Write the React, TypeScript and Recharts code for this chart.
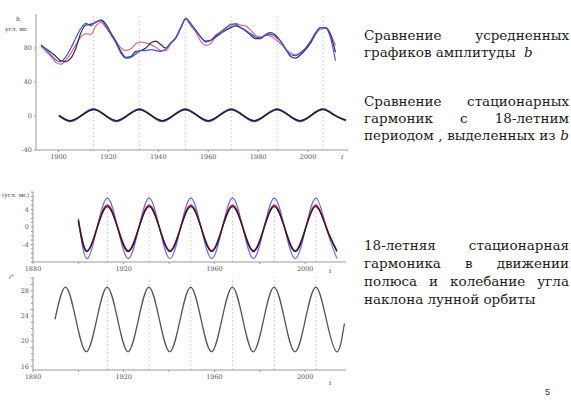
import React from 'react';
import { LineChart, Line, XAxis, YAxis, ReferenceLine } from 'recharts';

// averaged amplitude b, three solutions
const avgYears = [
  1893, 1895, 1897, 1899, 1901, 1903, 1905, 1907, 1909, 1911,
  1913, 1915, 1917, 1919, 1921, 1923, 1925, 1927, 1929, 1931,
  1933, 1935, 1937, 1939, 1941, 1943, 1945, 1947, 1949, 1951,
  1953, 1955, 1957, 1959, 1961, 1963, 1965, 1967, 1969, 1971,
  1973, 1975, 1977, 1979, 1981, 1983, 1985, 1987, 1989, 1991,
  1993, 1995, 1997, 1999, 2001, 2003, 2005, 2007, 2009, 2011,
];
const avgBlue = [
  84, 78, 72, 66, 64, 70, 80, 92, 103, 109,
  106, 111, 112, 106, 96, 86, 74, 68, 69, 73,
  77, 77, 78, 77, 76, 79, 86, 92, 104, 115,
  109, 100, 93, 87, 89, 95, 99, 103, 108, 108,
  104, 101, 97, 93, 92, 95, 96, 93, 88, 79,
  72, 71, 74, 80, 88, 98, 104, 104, 92, 65,
];
const avgRed = [
  82, 76, 70, 63, 61, 66, 74, 84, 93, 97,
  96, 106, 110, 104, 96, 88, 80, 77, 79, 85,
  87, 86, 84, 81, 77, 77, 85, 92, 103, 114,
  106, 99, 88, 83, 85, 94, 99, 104, 106, 109,
  107, 106, 101, 95, 93, 95, 94, 90, 85, 79,
  74, 72, 75, 79, 86, 96, 102, 103, 96, 83,
];
const avgBlack = [
  83, 79, 75, 70, 65, 64, 68, 80, 98, 107,
  108, 110, 113, 108, 98, 88, 76, 69, 70, 76,
  77, 80, 86, 88, 84, 80, 86, 92, 104, 115,
  108, 101, 93, 88, 89, 93, 97, 101, 104, 106,
  104, 100, 95, 91, 91, 96, 98, 95, 88, 79,
  70, 68, 72, 78, 86, 97, 104, 104, 96, 75,
];

// 18-year harmonics extracted from b (top panel)
const harmYears = [
  1900.2, 1904.8, 1909.4, 1914, 1918.6, 1923.2, 1927.8, 1932.4, 1937, 1941.6,
  1946.2, 1950.8, 1955.4, 1960, 1964.6, 1969.2, 1973.8, 1978.4, 1983, 1987.6,
  1992.2, 1996.8, 2001.4, 2006, 2010.6, 2015.2,
];
const harmRed = [1, -6, 1, 8, 1, -6, 1, 8, 1, -6, 1, 8, 1, -6, 1, 8, 1, -6, 1, 8, 1, -6, 1, 8, 1, -5];
const harmBlue = [0.5, -6.5, 1, 8.5, 1, -6.5, 1, 8.5, 1, -6.5, 1, 8.5, 1, -6.5, 1, 8.5, 1, -6.5, 1, 8.5, 1, -6.5, 1, 8.5, 1, -5.5];
const harmBlack = [0.5, -5.5, 1, 7.5, 1, -5.5, 1, 7.5, 1, -5.5, 1, 7.5, 1, -5.5, 1, 7.5, 1, -5.5, 1, 7.5, 1, -5.5, 1, 7.5, 1, -5];

// 18-year harmonic in pole motion (middle panel)
const midYears = [
  1900, 1903.6, 1908.2, 1912.8, 1917.4, 1922, 1926.6, 1931.2, 1935.8, 1940.4,
  1945, 1949.6, 1954.2, 1958.8, 1963.4, 1968, 1972.6, 1977.2, 1981.8, 1986.4,
  1991, 1995.6, 2000.2, 2004.8, 2009.4, 2014,
];
const midRed = [1.5, -5.4, -0.2, 5, -0.2, -5.4, -0.2, 5, -0.2, -5.4, -0.2, 5, -0.2, -5.4, -0.2, 5, -0.2, -5.4, -0.2, 5, -0.2, -5.4, -0.2, 5, -0.2, -5.4];
const midBlue = [2, -7.2, -0.3, 6.6, -0.3, -7.2, -0.3, 6.6, -0.3, -7.2, -0.3, 6.6, -0.3, -7.2, -0.3, 6.6, -0.3, -7.2, -0.3, 6.6, -0.3, -7.2, -0.3, 6.6, -0.3, -7.2];
const midBlack = [1.5, -5.6, -0.3, 4.7, -0.3, -5.6, -0.3, 4.7, -0.3, -5.6, -0.3, 4.7, -0.3, -5.6, -0.3, 4.7, -0.3, -5.6, -0.3, 4.7, -0.3, -5.6, -0.3, 4.7, -0.3, -5.6];

// lunar orbit inclination to the equator (bottom panel)
const lunarYears = [
  1889.7, 1894.3, 1898.9, 1903.5, 1908.1, 1912.7, 1917.3, 1921.9, 1926.5, 1931.1,
  1935.7, 1940.3, 1944.9, 1949.5, 1954.1, 1958.7, 1963.3, 1967.9, 1972.5, 1977.1,
  1981.7, 1986.3, 1990.9, 1995.5, 2000.1, 2004.7, 2009.3, 2013.9, 2017.3,
];
const lunarIncl = [
  23.45, 28.6, 23.45, 18.3, 23.45, 28.6, 23.45, 18.3, 23.45, 28.6,
  23.45, 18.3, 23.45, 28.6, 23.45, 18.3, 23.45, 28.6, 23.45, 18.3,
  23.45, 28.6, 23.45, 18.3, 23.45, 28.6, 23.45, 18.3, 22.8,
];

const topPeaks = [1914, 1932.4, 1950.8, 1969.2, 1987.6, 2006];
const lowPeaks = [1912.8, 1931.2, 1949.6, 1968, 1986.4, 2004.8];

const topXTicks = [1900, 1920, 1940, 1960, 1980, 2000];
const topYTicks = [-40, 0, 40, 80];
const lowXTicks = [1880, 1900, 1920, 1940, 1960, 1980, 2000];
const midYTicks = [-8, -7, -6, -5, -4, -3, -2, -1, 0, 1, 2, 3, 4, 5, 6, 7, 8];
const lunarYTicks = [16, 17, 18, 19, 20, 21, 22, 23, 24, 25, 26, 27, 28, 29, 30];

const avgData = avgYears.map((year, i) => ({ year, blue: avgBlue[i], red: avgRed[i], black: avgBlack[i] }));
const harmData = harmYears.map((year, i) => ({ year, red: harmRed[i], blue: harmBlue[i], black: harmBlack[i] }));
const midData = midYears.map((year, i) => ({ year, red: midRed[i], blue: midBlue[i], black: midBlack[i] }));
const lunarData = lunarYears.map((year, i) => ({ year, incl: lunarIncl[i] }));

const serif = "'DejaVu Serif', serif";
const tickFont = { fontSize: 6.5, fill: '#555', fontFamily: serif };
const axisColor = '#999';

const TextLine = ({ top, justify, children }: { top: number; justify?: boolean; children: React.ReactNode }) => (
  <div
    style={{
      position: 'absolute',
      left: 364,
      width: 205,
      top: top - 9,
      fontFamily: serif,
      fontSize: 13.5,
      lineHeight: '18px',
      color: '#1c1c1c',
      whiteSpace: justify ? 'normal' : 'nowrap',
      textAlign: justify ? 'justify' : 'left',
      textAlignLast: justify ? 'justify' : 'left',
    }}
  >
    {children}
  </div>
);

const Small = ({ left, top, children, italic }: { left: number; top: number; children: React.ReactNode; italic?: boolean }) => (
  <div style={{ position: 'absolute', left, top, fontFamily: serif, fontSize: 6, color: '#444', fontStyle: italic ? 'italic' : 'normal', whiteSpace: 'nowrap', lineHeight: '8px' }}>
    {children}
  </div>
);

export default function App() {
  return (
    <div style={{ position: 'absolute', left: 0, top: 0, width: 571, height: 403, background: '#fff', overflow: 'hidden' }}>
      {/* top panel: averaged amplitude and harmonics */}
      <div style={{ position: 'absolute', left: 0, top: 0 }}>
        <LineChart width={360} height={166} margin={{ top: 14, right: 12, bottom: 0, left: 0 }}>
          <XAxis
            type="number"
            dataKey="year"
            domain={[1891, 2016]}
            ticks={topXTicks}
            interval={0}
            tick={tickFont}
            tickSize={2}
            height={16}
            stroke={axisColor}
            allowDataOverflow
          />
          <YAxis
            type="number"
            domain={[-40, 120]}
            ticks={topYTicks}
            interval={0}
            tick={tickFont}
            tickSize={2}
            width={36}
            stroke={axisColor}
            allowDataOverflow
          />
          {topPeaks.map((p) => (
            <ReferenceLine key={p} x={p} stroke="#c8c8c8" strokeDasharray="2 2" strokeWidth={0.8} />
          ))}
          <Line data={avgData} dataKey="red" type="monotone" stroke="#ee6677" strokeWidth={1.2} dot={false} isAnimationActive={false} />
          <Line data={avgData} dataKey="black" type="monotone" stroke="#2e2e55" strokeWidth={1.2} dot={false} isAnimationActive={false} />
          <Line data={avgData} dataKey="blue" type="monotone" stroke="#4455dd" strokeWidth={1.2} dot={false} isAnimationActive={false} />
          <Line data={harmData} dataKey="red" type="natural" stroke="#dd4455" strokeWidth={1.5} dot={false} isAnimationActive={false} />
          <Line data={harmData} dataKey="blue" type="natural" stroke="#5555dd" strokeWidth={1.5} dot={false} isAnimationActive={false} />
          <Line data={harmData} dataKey="black" type="natural" stroke="#222" strokeWidth={1.5} dot={false} isAnimationActive={false} />
        </LineChart>
      </div>
      <Small left={16} top={15}><i>b</i>,</Small>
      <Small left={5} top={25}>угл. мс</Small>
      <Small left={341} top={153} italic>t</Small>

      {/* middle panel: harmonic in pole motion */}
      <div style={{ position: 'absolute', left: 0, top: 186 }}>
        <LineChart width={360} height={90} margin={{ top: 6, right: 14, bottom: 0, left: 0 }}>
          <XAxis
            type="number"
            dataKey="year"
            domain={[1880, 2018]}
            ticks={lowXTicks}
            interval={0}
            tickFormatter={(v: number) => (v % 40 === 0 ? String(v) : '')}
            tick={tickFont}
            tickSize={2}
            height={14}
            stroke={axisColor}
            allowDataOverflow
          />
          <YAxis
            type="number"
            domain={[-8, 8]}
            ticks={midYTicks}
            interval={0}
            tickFormatter={(v: number) => (v === -4 || v === 0 || v === 4 ? String(v) : '')}
            tick={tickFont}
            tickSize={2}
            width={33}
            stroke={axisColor}
            allowDataOverflow
          />
          {lowPeaks.map((p) => (
            <ReferenceLine key={p} x={p} stroke="#c8c8c8" strokeDasharray="2 2" strokeWidth={0.8} />
          ))}
          <Line data={midData} dataKey="blue" type="natural" stroke="#6a6af2" strokeWidth={1.1} dot={false} isAnimationActive={false} />
          <Line data={midData} dataKey="red" type="natural" stroke="#d63a4a" strokeWidth={1.6} dot={false} isAnimationActive={false} />
          <Line data={midData} dataKey="black" type="natural" stroke="#2a1a30" strokeWidth={1.4} dot={false} isAnimationActive={false} />
        </LineChart>
      </div>
      <Small left={2} top={191}>(угл. мс)</Small>
      <Small left={329} top={267} italic>t</Small>

      {/* bottom panel: lunar orbit inclination */}
      <div style={{ position: 'absolute', left: 0, top: 270 }}>
        <LineChart width={360} height={116} margin={{ top: 7, right: 14, bottom: 0, left: 0 }}>
          <XAxis
            type="number"
            dataKey="year"
            domain={[1880, 2018]}
            ticks={lowXTicks}
            interval={0}
            tickFormatter={(v: number) => (v % 40 === 0 ? String(v) : '')}
            tick={tickFont}
            tickSize={2}
            height={16}
            stroke={axisColor}
            allowDataOverflow
          />
          <YAxis
            type="number"
            domain={[15.4, 30.2]}
            ticks={lunarYTicks}
            interval={0}
            tickFormatter={(v: number) => (v % 4 === 0 ? String(v) : '')}
            tick={tickFont}
            tickSize={2}
            width={33}
            stroke={axisColor}
            allowDataOverflow
          />
          {lowPeaks.map((p) => (
            <ReferenceLine key={p} x={p} stroke="#c8c8c8" strokeDasharray="2 2" strokeWidth={0.8} />
          ))}
          <Line data={lunarData} dataKey="incl" type="natural" stroke="#555" strokeWidth={1.3} dot={false} isAnimationActive={false} />
        </LineChart>
      </div>
      <Small left={9} top={273} italic>i°</Small>
      <Small left={329} top={379} italic>t</Small>

      {/* captions */}
      <TextLine top={35} justify>Сравнение усредненных</TextLine>
      <TextLine top={52}>графиков амплитуды&nbsp; <i>b</i></TextLine>

      <TextLine top={101} justify>Сравнение стационарных</TextLine>
      <TextLine top={118} justify>гармоник с 18-летним</TextLine>
      <TextLine top={135} justify>периодом , выделенных из <i>b</i></TextLine>

      <TextLine top={245} justify>18-летняя стационарная</TextLine>
      <TextLine top={263} justify>гармоника в движении</TextLine>
      <TextLine top={281} justify>полюса и колебание угла</TextLine>
      <TextLine top={299}>наклона лунной орбиты</TextLine>

      <div style={{ position: 'absolute', left: 545, top: 387, fontFamily: "'Liberation Sans', Arial, sans-serif", fontSize: 9, color: '#333' }}>5</div>
    </div>
  );
}
